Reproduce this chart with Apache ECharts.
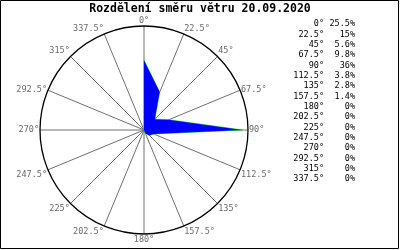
<!DOCTYPE html>
<html>
<head>
<meta charset="utf-8">
<script src="https://cdn.jsdelivr.net/npm/echarts@6/dist/echarts.min.js"></script>
<style>
html,body{margin:0;padding:0;background:#fff;}
#c{width:400px;height:250px;}
</style>
</head>
<body>
<div id="c"></div>
<script>
const titleText = 'Rozdělení směru větru 20.09.2020';
const directions = [0, 22.5, 45, 67.5, 90, 112.5, 135, 157.5, 180, 202.5, 225, 247.5, 270, 292.5, 315, 337.5];
const dirLabels = ['0°', '22.5°', '45°', '67.5°', '90°', '112.5°', '135°', '157.5°', '180°', '202.5°', '225°', '247.5°', '270°', '292.5°', '315°', '337.5°'];
const percentages = [25.5, 15, 5.6, 9.8, 36, 3.8, 2.8, 1.4, 0, 0, 0, 0, 0, 0, 0, 0];
const scaleMax = 38;

const MONO = '"DejaVu Sans Mono", "Liberation Mono", monospace';

const roseData = directions.map((d, i) => [percentages[i], d]);

const graphics = [{
  type: 'rect',
  shape: { x: 0.5, y: 0.5, width: 398, height: 248 },
  style: { fill: 'none', stroke: '#000', lineWidth: 1 },
  silent: true
}];
dirLabels.forEach((lab, i) => {
  const y = 24 + i * 10.35;
  graphics.push({
    type: 'text', x: 324, y: y, silent: true,
    style: { text: lab, fill: '#000', fontSize: 8.5, fontFamily: MONO,
      align: 'right', verticalAlign: 'middle', textAlign: 'right', textVerticalAlign: 'middle' }
  });
  graphics.push({
    type: 'text', x: 355, y: y, silent: true,
    style: { text: percentages[i] + '%', fill: '#000', fontSize: 8.5, fontFamily: MONO,
      align: 'right', verticalAlign: 'middle', textAlign: 'right', textVerticalAlign: 'middle' }
  });
});

function renderRose(params, api) {
  if (params.dataIndexInside !== 0) return null;
  const n = params.dataInsideLength;
  const pts = [];
  for (let j = 0; j < n; j++) {
    pts.push(api.coord([api.value(0, j), api.value(1, j)]));
  }
  return {
    type: 'group',
    children: [
      { type: 'polygon', shape: { points: pts },
        style: { fill: 'none', stroke: '#00ff00', lineWidth: 0.8 } },
      { type: 'polygon', shape: { points: pts },
        style: { fill: '#0000ff', stroke: null } }
    ]
  };
}

const chart = echarts.init(document.getElementById('c'), null, { renderer: 'canvas' });
chart.setOption({
  animation: false,
  backgroundColor: '#fff',
  title: {
    text: titleText, left: 'center', top: 3, padding: 0,
    textStyle: { fontFamily: MONO, fontWeight: 'bold', fontSize: 11.5, color: '#000' }
  },
  polar: { center: [144, 130], radius: 104 },
  angleAxis: {
    type: 'value', min: 0, max: 360, interval: 22.5,
    startAngle: 90, clockwise: true,
    axisLine: { show: true, lineStyle: { color: '#000', width: 1.3 } },
    axisTick: { show: false },
    splitLine: { show: true, lineStyle: { color: '#707070', width: 1 } },
    axisLabel: {
      margin: 1, color: '#6a6a6a', fontSize: 8.5, fontFamily: MONO,
      formatter: function (v) {
        const i = Math.round(v / 22.5) % 16;
        const t = dirLabels[i];
        if (i === 3 || i === 13) return '{m|' + t + '}';
        return t;
      },
      rich: { m: { lineHeight: 1, color: '#6a6a6a', fontSize: 8.5, fontFamily: MONO } }
    }
  },
  radiusAxis: {
    type: 'value', min: 0, max: scaleMax,
    axisLine: { show: false }, axisTick: { show: false },
    axisLabel: { show: false }, splitLine: { show: false }
  },
  series: [{
    type: 'custom', coordinateSystem: 'polar', silent: true, clip: false,
    data: roseData,
    renderItem: renderRose
  }],
  graphic: graphics
});
</script>
</body>
</html>
